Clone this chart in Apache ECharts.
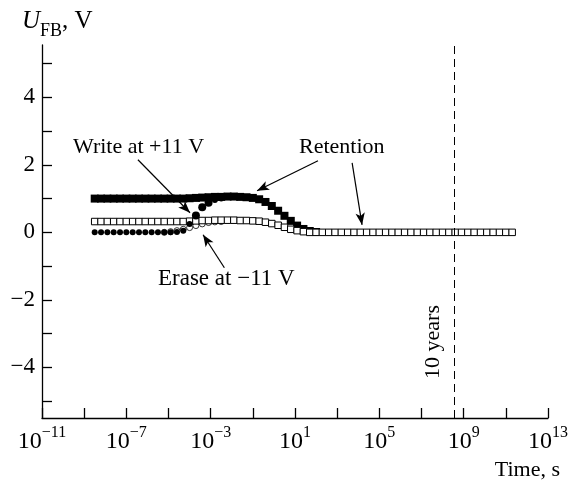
<!DOCTYPE html>
<html>
<head>
<meta charset="utf-8">
<script src="https://cdn.jsdelivr.net/npm/echarts@6/dist/echarts.min.js"></script>
<style>
  html, body { margin: 0; background: #fff; }
  #chart { width: 572px; height: 483px; }
</style>
</head>
<body>
<div id="chart"></div>
<script>
// measurement times, as log10(t / s)
const timeExp = [
  -8.5, -8.2, -7.9, -7.6, -7.3, -7.0, -6.7, -6.4, -6.1, -5.8,
  -5.5, -5.2, -4.9, -4.6, -4.3, -4.0, -3.7, -3.4, -3.1, -2.8,
  -2.5, -2.2, -1.9, -1.6, -1.3, -1.0, -0.7, -0.4, -0.1, 0.2,
  0.5, 0.8, 1.1, 1.4, 1.7, 2.0, 2.3, 2.6, 2.9, 3.2,
  3.5, 3.8, 4.1, 4.4, 4.7, 5.0, 5.3, 5.6, 5.9, 6.2,
  6.5, 6.8, 7.1, 7.4, 7.7, 8.0, 8.3, 8.6, 8.9, 9.2,
  9.5, 9.8, 10.1, 10.4, 10.7, 11.0, 11.3
]
// filled squares, retention of the written state (V)
const retentionWritten = [
  1.0, 1.0, 1.0, 1.0, 1.0, 1.0, 1.0, 1.0, 1.0, 1.0,
  1.0, 1.0, 1.0, 1.0, 1.0, 1.01, 1.02, 1.03, 1.04, 1.05,
  1.05, 1.06, 1.06, 1.05, 1.04, 1.02, 0.98, 0.9, 0.78, 0.64,
  0.49, 0.34, 0.2, 0.1, 0.04, 0.01
]
// open squares, retention of the erased state (V)
const retentionErased = [
  0.32, 0.32, 0.32, 0.32, 0.32, 0.32, 0.32, 0.32, 0.32, 0.32,
  0.32, 0.32, 0.32, 0.32, 0.32, 0.33, 0.34, 0.35, 0.35, 0.36,
  0.36, 0.36, 0.36, 0.35, 0.35, 0.34, 0.33, 0.3, 0.26, 0.21,
  0.15, 0.09, 0.05, 0.02, 0, 0, 0, 0, 0, 0,
  0, 0, 0, 0, 0, 0, 0, 0, 0, 0,
  0, 0, 0, 0, 0, 0, 0, 0, 0, 0,
  0, 0, 0, 0, 0, 0, 0
]
// filled circles, write at +11 V (V)
const writeCurve = [
  0, 0, 0, 0, 0, 0, 0, 0, 0, 0,
  0, 0, 0, 0.01, 0.05, 0.25, 0.5, 0.74, 0.88, 0.96,
  1.0
]
// open circles, erase at -11 V (V); starts at index 11 of timeExp
const eraseCurve = [0.0, 0.02, 0.05, 0.09, 0.14, 0.2, 0.25, 0.29, 0.31, 0.32]
const eraseStart = 11

const xTicks = [-11, -9, -7, -5, -3, -1, 1, 3, 5, 7, 9, 11, 13]
const xLabels = [-11, -7, -3, 1, 5, 9, 13]
const yTicks = [-5, -4, -3, -2, -1, 0, 1, 2, 3, 4, 5]
const yLabels = [-4, -2, 0, 2, 4]
const tenYears = 8.55

const font = 'Liberation Serif'
const minus = (v) => (v < 0 ? '\u2212' + (-v) : String(v))

const pairs = (vals, start = 0) => vals.map((v, i) => [timeExp[i + start], v])

const chart = echarts.init(document.getElementById('chart'))

chart.setOption({
  animation: false,
  grid: { left: 42, right: 24, top: 45, bottom: 65 },
  xAxis: {
    type: 'value',
    min: -11,
    max: 13,
    axisLine: { onZero: false, lineStyle: { color: '#000', width: 1.3 } },
    axisTick: { inside: true, length: 10, customValues: xTicks, lineStyle: { color: '#000', width: 1.3 } },
    axisLabel: {
      customValues: xLabels,
      margin: 7,
      color: '#000',
      formatter: (v) => '{b|10}{s|' + minus(v) + '}',
      rich: {
        b: { fontFamily: font, fontSize: 24, color: '#000', padding: [5, 0, 0, 0], verticalAlign: 'bottom' },
        s: { fontFamily: font, fontSize: 16, color: '#000', verticalAlign: 'top' }
      }
    },
    splitLine: { show: false }
  },
  yAxis: {
    type: 'value',
    min: -5.5,
    max: 5.55,
    axisLine: { show: true, onZero: false, lineStyle: { color: '#000', width: 1.3 } },
    axisTick: { show: true, inside: true, length: 10, customValues: yTicks, lineStyle: { color: '#000', width: 1.3 } },
    axisLabel: {
      customValues: yLabels,
      margin: 7,
      color: '#000',
      fontFamily: font,
      fontSize: 23,
      formatter: minus
    },
    splitLine: { show: false }
  },
  graphic: [
    {
      type: 'text', left: 22, top: 9,
      style: {
        text: '{u|U}{s|FB}{t|, V}',
        rich: {
          u: { fontFamily: font, fontSize: 25, fontStyle: 'italic', fill: '#000', padding: [0, 0, 6, 0], verticalAlign: 'top' },
          s: { fontFamily: font, fontSize: 18, fill: '#000', verticalAlign: 'bottom' },
          t: { fontFamily: font, fontSize: 25, fill: '#000', padding: [0, 0, 6, 0], verticalAlign: 'top' }
        }
      }
    },
    { type: 'text', x: 560, y: 470, style: { text: 'Time, s', font: '22px ' + font, fill: '#000', align: 'right', verticalAlign: 'middle' } },
    { type: 'text', x: 73, y: 147, style: { text: 'Write at +11 V', font: '22px ' + font, fill: '#000', verticalAlign: 'middle' } },
    { type: 'text', x: 299, y: 147, style: { text: 'Retention', font: '22px ' + font, fill: '#000', verticalAlign: 'middle' } },
    { type: 'text', x: 158, y: 279, style: { text: 'Erase at \u221211 V', font: '23px ' + font, fill: '#000', verticalAlign: 'middle' } },
    { type: 'text', x: 433, y: 342, rotation: Math.PI / 2, style: { text: '10 years', font: '22px ' + font, fill: '#000', align: 'center', verticalAlign: 'middle' } }
  ],
  series: [
    {
      name: 'erase',
      type: 'scatter',
      symbol: 'circle',
      symbolSize: 6,
      itemStyle: { color: '#fff', borderColor: '#000', borderWidth: 0.8, opacity: 1 },
      data: pairs(eraseCurve, eraseStart)
    },
    {
      name: 'retention written',
      type: 'scatter',
      symbol: 'rect',
      symbolSize: 8,
      itemStyle: { color: '#000', opacity: 1 },
      data: pairs(retentionWritten)
    },
    {
      name: 'retention erased',
      type: 'scatter',
      symbol: 'rect',
      symbolSize: 6.5,
      itemStyle: { color: '#fff', borderColor: '#000', borderWidth: 1, opacity: 1 },
      data: pairs(retentionErased),
      markLine: {
        silent: true,
        symbol: ['none', 'arrow'],
        symbolSize: [7, 12],
        label: { show: false },
        lineStyle: { color: '#000', width: 1.2, type: 'solid' },
        data: [
          [{ coord: [-6.45, 2.15] }, { coord: [-3.98, 0.58] }],
          [{ coord: [2.09, 2.12] }, { coord: [-0.8, 1.23] }],
          [{ coord: [3.71, 2.06] }, { coord: [4.18, 0.22] }],
          [{ coord: [-2.35, -1.05] }, { coord: [-3.36, -0.07] }],
          [{ coord: [tenYears, -5.5], symbol: 'none', lineStyle: { type: [8, 5], width: 1 } },
           { coord: [tenYears, 5.55], symbol: 'none' }]
        ]
      }
    },
    {
      name: 'write',
      type: 'scatter',
      symbol: 'circle',
      symbolSize: (v) => (v[1] > 0.3 && v[1] < 0.95 ? 8 : 6),
      itemStyle: { color: '#000', opacity: 1 },
      data: pairs(writeCurve)
    }
  ]
})
</script>
</body>
</html>
